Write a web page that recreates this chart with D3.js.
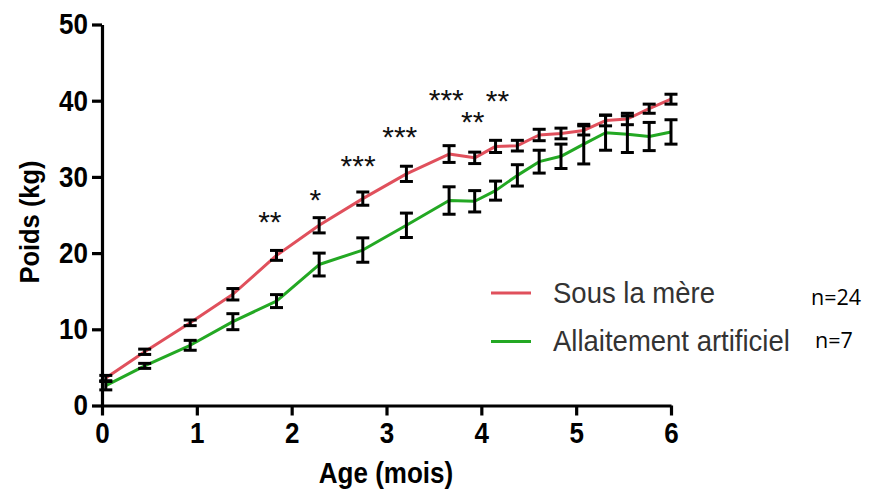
<!DOCTYPE html>
<html>
<head>
<meta charset="utf-8">
<script src="https://cdn.jsdelivr.net/npm/d3@7"></script>
<style>
  html, body { margin: 0; padding: 0; background: #fff; }
  svg { display: block; }
</style>
</head>
<body>
<svg id="chart" width="870" height="497"></svg>
<script>
// ---- Data ----
const ages = [0.04, 0.45, 0.93, 1.38, 1.84, 2.29, 2.75, 3.21, 3.66, 3.93, 4.15, 4.38, 4.61, 4.84, 5.08, 5.31, 5.54, 5.77, 6.0];
const meanMere = [3.6, 7.05, 10.85, 14.6, 19.7, 23.65, 27.15, 30.4, 33.0, 32.5, 34.0, 34.1, 35.5, 35.7, 36.1, 37.4, 37.6, 38.95, 40.2];
const semMere  = [0.35, 0.35, 0.37, 0.75, 0.65, 1.0, 0.87, 1.0, 1.1, 0.75, 0.8, 0.7, 0.75, 0.7, 0.6, 0.7, 0.75, 0.6, 0.65];
const meanArt  = [2.6, 5.2, 7.9, 11.0, 13.7, 18.5, 20.4, 23.65, 26.9, 26.8, 28.2, 30.2, 32.0, 32.7, 34.3, 35.8, 35.6, 35.3, 35.9];
const semArt   = [0.55, 0.33, 0.65, 1.05, 0.85, 1.5, 1.6, 1.6, 1.8, 1.4, 1.25, 1.4, 1.5, 1.6, 2.6, 2.3, 2.4, 1.85, 1.6];
const xTicks = [0, 1, 2, 3, 4, 5, 6];
const yTicks = [0, 10, 20, 30, 40, 50];
const starAges = [1.77, 2.25, 2.70, 3.14, 3.63, 3.91, 4.17];
const starLevels = [25.0, 27.85, 32.3, 36.15, 40.95, 38.1, 40.85];
const starLabels = ["**", "*", "***", "***", "***", "**", "**"];
const seriesNames = ["Sous la mère", "Allaitement artificiel"];
const seriesN = ["n=24", "n=7"];
const seriesColors = ["#e0505c", "#23a823"];

// ---- Chart ----
const svg = d3.select("#chart");
const x = d3.scaleLinear().domain([0, 6]).range([102, 671]);
const y = d3.scaleLinear().domain([0, 50]).range([405.5, 24.5]);
const font = "'Liberation Sans', Arial, Helvetica, sans-serif";

// Axes
const xAxis = svg.append("g").attr("transform", "translate(0,405.5)")
  .call(d3.axisBottom(x).tickValues(xTicks).tickFormat(d3.format("d")).tickSizeInner(10).tickSizeOuter(0).tickPadding(6));
const yAxis = svg.append("g").attr("transform", "translate(102,0)")
  .call(d3.axisLeft(y).tickValues(yTicks).tickFormat(d3.format("d")).tickSizeInner(10).tickSizeOuter(0).tickPadding(4));
[xAxis, yAxis].forEach(g => {
  g.select(".domain").attr("stroke", "#000").attr("stroke-width", 3.2);
  g.selectAll(".tick line").attr("stroke", "#000").attr("stroke-width", 3.2);
  g.selectAll(".tick text").attr("fill", "#000").style("font-family", font)
    .style("font-weight", "bold").style("font-size", "26px")
    .attr("transform", "scale(1,1.1)");
});
yAxis.selectAll(".tick text").attr("dy", "0.33em");

// Axis titles
svg.append("text").attr("transform", "translate(386,483) scale(1,1.1)").attr("text-anchor", "middle")
  .style("font-family", font).style("font-weight", "bold").style("font-size", "26px")
  .text("Age (mois)");
svg.append("text").attr("transform", "translate(39,222) rotate(-90) scale(1,1.1)").attr("text-anchor", "middle")
  .style("font-family", font).style("font-weight", "bold").style("font-size", "25.5px")
  .text("Poids (kg)");

// Lines
const seriesData = [
  ages.map((a, i) => ({ age: a, mean: meanMere[i], sem: semMere[i] })),
  ages.map((a, i) => ({ age: a, mean: meanArt[i], sem: semArt[i] }))
];
const line = d3.line().x(d => x(d.age)).y(d => y(d.mean));
[1, 0].forEach(s => {
  svg.append("path").datum(seriesData[s]).attr("fill", "none")
    .attr("stroke", seriesColors[s]).attr("stroke-width", 3).attr("stroke-linejoin", "round")
    .attr("d", line);
});

// Error bars
const capHalf = 6.5;
[1, 0].forEach(s => {
  const g = svg.append("g").attr("stroke", "#000").attr("stroke-width", 3).attr("fill", "none");
  const eb = g.selectAll("g").data(seriesData[s]).join("g");
  eb.append("line").attr("x1", d => x(d.age)).attr("x2", d => x(d.age))
    .attr("y1", d => y(d.mean - d.sem)).attr("y2", d => y(d.mean + d.sem));
  eb.append("line").attr("x1", d => x(d.age) - capHalf).attr("x2", d => x(d.age) + capHalf)
    .attr("y1", d => y(d.mean + d.sem)).attr("y2", d => y(d.mean + d.sem));
  eb.append("line").attr("x1", d => x(d.age) - capHalf).attr("x2", d => x(d.age) + capHalf)
    .attr("y1", d => y(d.mean - d.sem)).attr("y2", d => y(d.mean - d.sem));
});

// Significance stars
svg.append("g").selectAll("text").data(starLabels).join("text")
  .attr("x", (d, i) => x(starAges[i])).attr("y", (d, i) => y(starLevels[i]))
  .attr("dy", "0.56em").attr("text-anchor", "middle")
  .style("font-family", font).style("font-size", "30px").attr("fill", "#111")
  .text(d => d);

// Legend
const legY = [293, 341.5];
seriesNames.forEach((name, i) => {
  svg.append("line").attr("x1", 491).attr("x2", 531).attr("y1", legY[i]).attr("y2", legY[i])
    .attr("stroke", seriesColors[i]).attr("stroke-width", 3);
  svg.append("text").attr("transform", `translate(553,${legY[i] + 9.5}) scale(1,1.06)`)
    .style("font-family", font).style("font-size", "27.5px").attr("fill", "#333")
    .text(name);
  svg.append("text").attr("x", i === 0 ? 811 : 815).attr("y", legY[i] + (i === 0 ? 12 : 6))
    .style("font-family", "'Open Sans', 'Noto Sans', sans-serif").style("font-size", "21.5px").attr("fill", "#000")
    .text(seriesN[i]);
});
</script>
</body>
</html>
